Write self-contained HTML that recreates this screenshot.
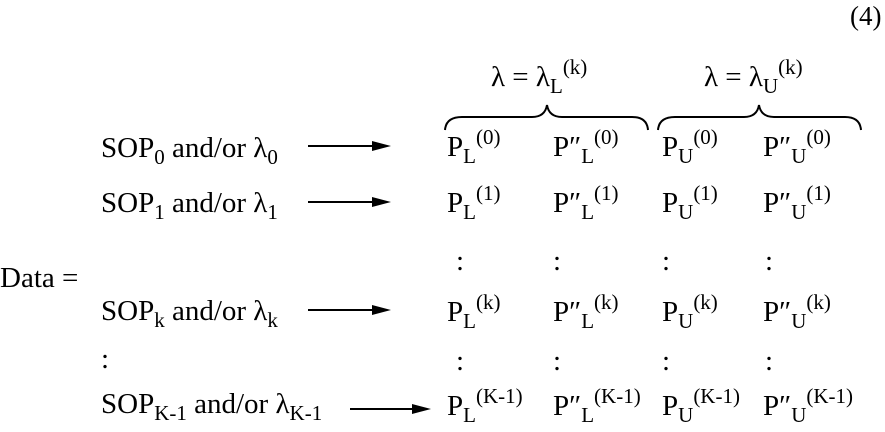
<!DOCTYPE html>
<html><head><meta charset="utf-8"><style>
html,body{margin:0;padding:0;background:#fff;}
svg{display:block;}
text{font-family:"Liberation Serif",serif;font-size:29px;fill:#000;}
.s{font-size:21px;}
</style></head><body>
<svg width="885" height="432" viewBox="0 0 885 432" xmlns="http://www.w3.org/2000/svg">
<text x="850" y="25" style="font-size:27px">(4)</text>

<!-- headers -->
<text x="491" y="86">λ = λ<tspan class="s" dy="7">L</tspan><tspan class="s" dy="-19">(k)</tspan></text>
<text x="704" y="86">λ = λ<tspan class="s" dy="7">U</tspan><tspan class="s" dy="-19">(k)</tspan></text>

<!-- braces -->
<g fill="none" stroke="#000" stroke-width="2">
<path d="M445,130 Q446,117 462,117 L532,117 Q545,117 547,105 Q549,117 562,117 L632,117 Q647,117 648,130"/>
<path d="M658,130 Q659,117 675,117 L744,117 Q757,117 759,105 Q761,117 774,117 L845,117 Q860,117 861,130"/>
</g>

<!-- left labels -->
<text x="101" y="157">SOP<tspan class="s" dy="7">0</tspan><tspan dy="-7"> and/or λ</tspan><tspan class="s" dy="7">0</tspan></text>
<text x="101" y="212">SOP<tspan class="s" dy="7">1</tspan><tspan dy="-7"> and/or λ</tspan><tspan class="s" dy="7">1</tspan></text>
<text x="0" y="287">Data =</text>
<text x="101" y="320">SOP<tspan class="s" dy="7">k</tspan><tspan dy="-7"> and/or λ</tspan><tspan class="s" dy="7">k</tspan></text>
<text x="101" y="368">:</text>
<text x="101" y="413">SOP<tspan class="s" dy="7">K-1</tspan><tspan dy="-7"> and/or λ</tspan><tspan class="s" dy="7">K-1</tspan></text>

<!-- arrows -->
<g stroke="#000" stroke-width="2">
<line x1="308" y1="146" x2="375" y2="146"/>
<line x1="308" y1="202" x2="375" y2="202"/>
<line x1="308" y1="310" x2="375" y2="310"/>
<line x1="350" y1="409" x2="415" y2="409"/>
</g>
<g fill="#000">
<polygon points="372,141 391,146 372,151"/>
<polygon points="372,197 391,202 372,207"/>
<polygon points="372,305 391,310 372,315"/>
<polygon points="412,404 431,409 412,414"/>
</g>

<!-- matrix -->
<g>
<text x="447" y="156">P<tspan class="s" dy="7">L</tspan><tspan class="s" dy="-19">(0)</tspan></text>
<text x="553" y="156">P″<tspan class="s" dy="7">L</tspan><tspan class="s" dy="-19">(0)</tspan></text>
<text x="662" y="156">P<tspan class="s" dy="7">U</tspan><tspan class="s" dy="-19">(0)</tspan></text>
<text x="763" y="156">P″<tspan class="s" dy="7">U</tspan><tspan class="s" dy="-19">(0)</tspan></text>

<text x="447" y="212">P<tspan class="s" dy="7">L</tspan><tspan class="s" dy="-19">(1)</tspan></text>
<text x="553" y="212">P″<tspan class="s" dy="7">L</tspan><tspan class="s" dy="-19">(1)</tspan></text>
<text x="662" y="212">P<tspan class="s" dy="7">U</tspan><tspan class="s" dy="-19">(1)</tspan></text>
<text x="763" y="212">P″<tspan class="s" dy="7">U</tspan><tspan class="s" dy="-19">(1)</tspan></text>

<text x="456" y="270">:</text><text x="553" y="270">:</text><text x="662" y="270">:</text><text x="765" y="270">:</text>

<text x="447" y="321">P<tspan class="s" dy="7">L</tspan><tspan class="s" dy="-19">(k)</tspan></text>
<text x="553" y="321">P″<tspan class="s" dy="7">L</tspan><tspan class="s" dy="-19">(k)</tspan></text>
<text x="662" y="321">P<tspan class="s" dy="7">U</tspan><tspan class="s" dy="-19">(k)</tspan></text>
<text x="763" y="321">P″<tspan class="s" dy="7">U</tspan><tspan class="s" dy="-19">(k)</tspan></text>

<text x="456" y="370">:</text><text x="553" y="370">:</text><text x="662" y="370">:</text><text x="765" y="370">:</text>

<text x="447" y="415">P<tspan class="s" dy="7">L</tspan><tspan class="s" dy="-19">(K-1)</tspan></text>
<text x="553" y="415">P″<tspan class="s" dy="7">L</tspan><tspan class="s" dy="-19">(K-1)</tspan></text>
<text x="662" y="415">P<tspan class="s" dy="7">U</tspan><tspan class="s" dy="-19">(K-1)</tspan></text>
<text x="763" y="415">P″<tspan class="s" dy="7">U</tspan><tspan class="s" dy="-19">(K-1)</tspan></text>
</g>
</svg>
</body></html>
